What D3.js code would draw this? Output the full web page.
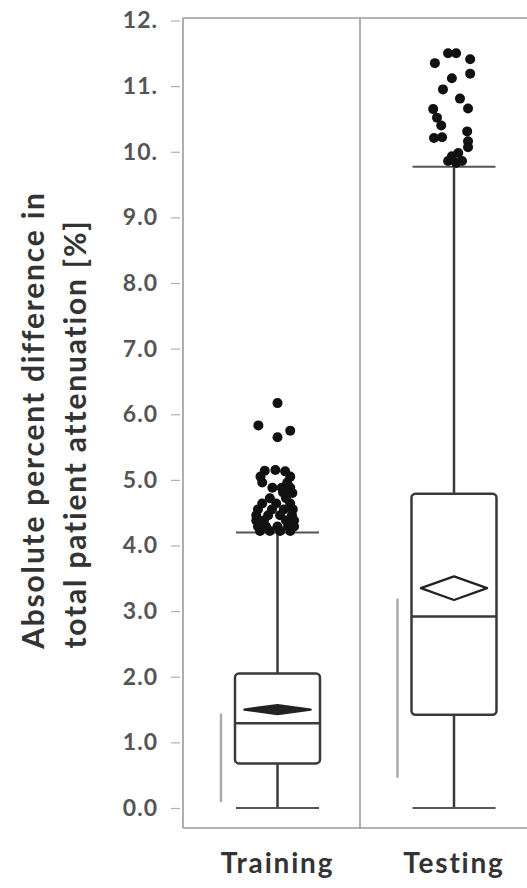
<!DOCTYPE html>
<html><head><meta charset="utf-8">
<script src="https://cdn.jsdelivr.net/npm/d3@7"></script>
<style>body{margin:0;background:#fff;} svg{display:block;}</style>
</head><body>
<svg id="c" width="527" height="888"></svg>
<script>
const groups = ["Training", "Testing"];
const q1 = [0.68, 1.42];
const median = [1.29, 2.92];
const q3 = [2.05, 4.79];
const whiskerLow = [0.0, 0.0];
const whiskerHigh = [4.2, 9.77];
const mean = [1.5, 3.35];
const meanCI = [0.07, 0.18];
const shortestHalfLow = [0.09, 0.46];
const shortestHalfHigh = [1.44, 3.19];
const yTicks = [0,1,2,3,4,5,6,7,8,9,10,11,12];
const yTickLabels = ["0.0","1.0","2.0","3.0","4.0","5.0","6.0","7.0","8.0","9.0","10.","11.","12."];
const yTitle = ["Absolute percent difference in", "total patient attenuation [%]"];
// outliers: [jitter (-1..1 of half box width), value]
const trainingOutliers = [
 [0.0,6.17],[-0.45,5.83],[0.3,5.75],[0.0,5.65],
 [-0.3,5.14],[-0.05,5.15],[0.18,5.13],
 [-0.4,5.05],[0.3,5.05],
 [-0.36,4.96],[0.23,4.96],
 [-0.12,4.88],[0.1,4.88],[0.3,4.88],
 [0.13,4.81],[0.35,4.8],
 [-0.18,4.72],[0.2,4.72],
 [-0.36,4.64],[-0.03,4.64],[0.3,4.64],
 [-0.46,4.55],[-0.13,4.55],[0.15,4.55],[0.36,4.55],
 [-0.5,4.46],[-0.22,4.46],[0.06,4.46],[0.34,4.46],
 [-0.5,4.38],[-0.32,4.38],[0.2,4.38],[0.39,4.38],
 [-0.46,4.29],[-0.27,4.29],[0.0,4.29],[0.25,4.29],[0.39,4.29],
 [-0.41,4.22],[-0.18,4.22],[0.06,4.22],[0.3,4.22]
];
const testingOutliers = [
 [-0.45,11.35],[-0.14,11.5],[0.05,11.5],[0.38,11.41],[0.38,11.19],
 [-0.05,11.12],[-0.26,10.95],[0.14,10.81],[0.33,10.66],[-0.49,10.65],
 [-0.4,10.52],[-0.3,10.4],[-0.47,10.21],[-0.28,10.22],[0.31,10.31],
 [0.33,10.16],[0.33,10.07],[-0.05,9.93],[0.1,9.98],[-0.14,9.86],
 [0.05,9.83],[0.19,9.86]
];
const outliers = [trainingOutliers, testingOutliers];

const svg = d3.select("#c");
const y = d3.scaleLinear().domain([0, 12]).range([808, 20.5]);
const x = d3.scalePoint().domain(groups).range([277.5, 454]);
const halfW = 42.5;
const frame = {left: 183, top: 18, bottom: 828, right: 540, divider: 360};
const frameColor = "#9a9a9a";
const boxColor = "#3a3a3a";
const font = "Lato, sans-serif";

// frame
svg.append("line").attr("x1", frame.left).attr("x2", frame.right).attr("y1", frame.top).attr("y2", frame.top)
  .attr("stroke", frameColor).attr("stroke-width", 1.6);
svg.append("line").attr("x1", frame.left).attr("x2", frame.right).attr("y1", frame.bottom).attr("y2", frame.bottom)
  .attr("stroke", frameColor).attr("stroke-width", 1.6);
svg.append("line").attr("x1", frame.divider).attr("x2", frame.divider).attr("y1", frame.top).attr("y2", frame.bottom)
  .attr("stroke", frameColor).attr("stroke-width", 1.6);

// y axis
const yAxis = d3.axisLeft(y).tickValues(yTicks).tickSize(9).tickPadding(16)
  .tickFormat((d, i) => yTickLabels[i]);
const ga = svg.append("g").attr("transform", `translate(${frame.left},0)`).call(yAxis);
ga.select(".domain").attr("d", `M0,${frame.top}V${frame.bottom}`).attr("stroke", frameColor).attr("stroke-width", 1.6);
ga.selectAll(".tick line").attr("stroke", "#b0b0b0").attr("stroke-width", 1.2).attr("x2", -12).attr("x1", -3);
ga.selectAll(".tick text").attr("font-family", font).attr("font-size", 23).attr("letter-spacing", 1)
  .attr("fill", "#555").attr("font-weight", 700);

// y title
yTitle.forEach((t, i) => {
  svg.append("text").attr("transform", `translate(${i === 0 ? 44 : 86},${i === 0 ? 420 : 434}) rotate(-90)`)
    .attr("text-anchor", "middle").attr("font-family", font).attr("font-weight", 700)
    .attr("font-size", 30).attr("letter-spacing", 1.8).attr("fill", "#333").text(t);
});

// boxes
groups.forEach((g, i) => {
  const cx = x(g);
  const G = svg.append("g");
  // shortest half bracket
  G.append("line").attr("x1", cx - halfW - 14).attr("x2", cx - halfW - 14)
    .attr("y1", y(shortestHalfLow[i])).attr("y2", y(shortestHalfHigh[i]))
    .attr("stroke", "#aaa").attr("stroke-width", 2.5);
  // whiskers
  G.append("line").attr("x1", cx).attr("x2", cx).attr("y1", y(q3[i])).attr("y2", y(whiskerHigh[i]))
    .attr("stroke", boxColor).attr("stroke-width", 2.5);
  G.append("line").attr("x1", cx).attr("x2", cx).attr("y1", y(q1[i])).attr("y2", y(whiskerLow[i]))
    .attr("stroke", boxColor).attr("stroke-width", 2.5);
  [whiskerLow[i], whiskerHigh[i]].forEach(v => {
    G.append("line").attr("x1", cx - halfW + 1).attr("x2", cx + halfW - 1).attr("y1", y(v)).attr("y2", y(v))
      .attr("stroke", "#555").attr("stroke-width", 2);
  });
  // box
  G.append("rect").attr("x", cx - halfW).attr("width", 2 * halfW)
    .attr("y", y(q3[i])).attr("height", y(q1[i]) - y(q3[i])).attr("rx", 4)
    .attr("fill", "none").attr("stroke", boxColor).attr("stroke-width", 2.5);
  G.append("line").attr("x1", cx - halfW).attr("x2", cx + halfW).attr("y1", y(median[i])).attr("y2", y(median[i]))
    .attr("stroke", boxColor).attr("stroke-width", 2.5);
  // mean diamond
  const dw = halfW * 0.78;
  const pts = [[cx - dw, y(mean[i])], [cx, y(mean[i] + meanCI[i])], [cx + dw, y(mean[i])], [cx, y(mean[i] - meanCI[i])]];
  G.append("path").attr("d", "M" + pts.join("L") + "Z")
    .attr("fill", i === 0 ? "#222" : "none").attr("stroke", "#222").attr("stroke-width", 2.2)
    .attr("stroke-linejoin", "round");
  // outliers
  G.selectAll("circle.o").data(outliers[i]).join("circle").attr("class", "o")
    .attr("cx", d => cx + d[0] * halfW).attr("cy", d => y(d[1])).attr("r", 5).attr("fill", "#111");
  // label
  svg.append("text").attr("x", cx).attr("y", 873).attr("text-anchor", "middle")
    .attr("font-family", font).attr("font-weight", 700).attr("font-size", 28).attr("letter-spacing", 1.8)
    .attr("fill", "#333").text(g);
});
</script>
</body></html>
